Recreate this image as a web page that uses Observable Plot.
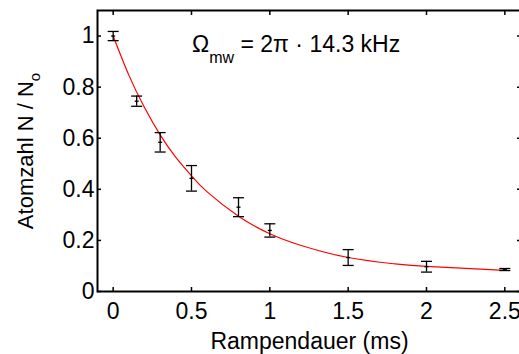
<!DOCTYPE html>
<html>
<head>
<meta charset="utf-8">
<script src="https://cdn.jsdelivr.net/npm/d3@7"></script>
<script src="https://cdn.jsdelivr.net/npm/@observablehq/plot@0.6"></script>
<style>
  html, body { margin: 0; padding: 0; background: #fff; }
  svg { display: block; }
</style>
</head>
<body>
<div id="chart"></div>
<script>
// Measured data (Rampendauer in ms, relative atom number, error)
const rampTimes = [0, 0.15, 0.3, 0.5, 0.8, 1.0, 1.5, 2.0, 2.5];
const atomNumbers = [1.0, 0.745, 0.584, 0.443, 0.33, 0.239, 0.133, 0.097, 0.086];
const atomErrors = [0.018, 0.02, 0.038, 0.05, 0.037, 0.026, 0.031, 0.021, 0.004];

// Fit curve
const fitTimes = [0, 0.1, 0.2, 0.3, 0.4, 0.5, 0.6, 0.8, 1.0, 1.2, 1.5, 1.8, 2.0, 2.5];
const fitValues = [1.0, 0.847, 0.72, 0.613, 0.525, 0.453, 0.39, 0.295, 0.226, 0.18, 0.133, 0.108, 0.098, 0.083];

const xTicks = [0, 0.5, 1, 1.5, 2, 2.5];
const yTicks = [0, 0.2, 0.4, 0.6, 0.8, 1];
const xLabel = "Rampendauer (ms)";
const yLabel = "Atomzahl N / N";
const yLabelSub = "o";
const annOmega = "Ω";
const annSub = "mw";
const annRest = " = 2π · 14.3 kHz";

const points = rampTimes.map((t, i) => ({t, n: atomNumbers[i], lo: atomNumbers[i] - atomErrors[i], hi: atomNumbers[i] + atomErrors[i]}));
const fit = fitTimes.map((t, i) => ({t, n: fitValues[i]}));

const hline = (half) => ({draw(ctx) { ctx.moveTo(-half, 0); ctx.lineTo(half, 0); }});
const capSymbol = hline(5.5);
const centerSymbol = hline(2);

const FONT = "Liberation Sans, Arial, Helvetica, sans-serif";

const plot = Plot.plot({
  width: 519,
  height: 354,
  marginLeft: 97,
  marginRight: -1,
  marginTop: 10,
  marginBottom: 63,
  style: {fontFamily: FONT, fontSize: "23px", color: "#000", background: "#fff"},
  x: {domain: [-0.1, 2.6]},
  y: {domain: [0, 1.1]},
  marks: [
    Plot.line(fit, {x: "t", y: "n", stroke: "#ff0000", strokeWidth: 1.2, curve: "natural"}),
    Plot.ruleX(points, {x: "t", y1: "lo", y2: "hi", stroke: "#000", strokeWidth: 1.3}),
    Plot.dot(points, {x: "t", y: "lo", symbol: capSymbol, stroke: "#000", strokeWidth: 1.3, fill: "none"}),
    Plot.dot(points, {x: "t", y: "hi", symbol: capSymbol, stroke: "#000", strokeWidth: 1.3, fill: "none"}),
    Plot.dot(points, {x: "t", y: "n", symbol: centerSymbol, stroke: "#000", strokeWidth: 1.3, fill: "none"}),
    Plot.axisX({anchor: "bottom", ticks: xTicks, tickSize: -4, tickPadding: 15, strokeWidth: 1.5, tickFormat: d => String(d), label: null, fontSize: 23}),
    Plot.axisX({anchor: "top", ticks: xTicks, tickSize: -4, strokeWidth: 1.5, tickFormat: () => "", label: null}),
    Plot.axisY({anchor: "left", ticks: yTicks, tickSize: -4, tickPadding: 7, strokeWidth: 1.5, tickFormat: d => String(d), label: null, fontSize: 23}),
    Plot.axisY({anchor: "right", ticks: yTicks, tickSize: -4, strokeWidth: 1.5, tickFormat: () => "", label: null}),
    Plot.frame({stroke: "#000", strokeWidth: 2})
  ]
});

document.getElementById("chart").appendChild(plot);

const svg = d3.select(plot);

// x axis label
svg.append("text")
  .attr("x", 309.5).attr("y", 349)
  .attr("text-anchor", "middle")
  .attr("font-family", FONT).attr("font-size", 23).attr("fill", "#000")
  .text(xLabel);

// y axis label with subscript
const yl = svg.append("text")
  .attr("transform", "translate(33,151) rotate(-90)")
  .attr("text-anchor", "middle")
  .attr("font-family", FONT).attr("font-size", 22).attr("fill", "#000");
yl.append("tspan").text(yLabel);
yl.append("tspan").attr("font-size", 15).attr("dy", 7).text(yLabelSub);

// annotation
const an = svg.append("text")
  .attr("x", 192).attr("y", 52)
  .attr("text-anchor", "start")
  .attr("font-family", FONT).attr("font-size", 23).attr("fill", "#000");
an.append("tspan").text(annOmega);
an.append("tspan").attr("font-size", 16).attr("dy", 11).text(annSub);
an.append("tspan").attr("dy", -11).text(annRest);
</script>
</body>
</html>
